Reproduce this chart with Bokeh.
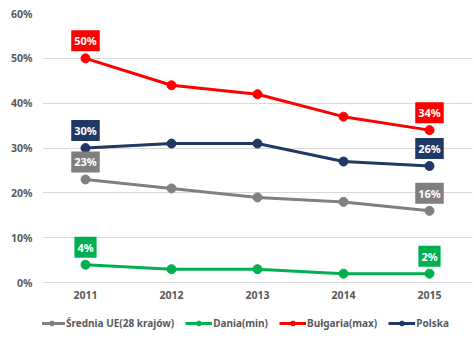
from bokeh.plotting import figure
from bokeh.models import (ColumnDataSource, Label, Legend, LegendItem, Range1d,
                          FixedTicker, CustomJSTickFormatter)
from bokeh.embed import file_html
from bokeh.resources import INLINE

years = [2011, 2012, 2013, 2014, 2015]
srednia = [23, 21, 19, 18, 16]
dania = [4, 3, 3, 2, 2]
bulgaria = [50, 44, 42, 37, 34]
polska = [30, 31, 31, 27, 26]
y_ticks = [0, 10, 20, 30, 40, 50, 60]

series = [
    ("Średnia UE(28 krajów)", srednia, "#808080", "#7f7f7f"),
    ("Dania(min)", dania, "#00b050", "#00b050"),
    ("Bułgaria(max)", bulgaria, "#ff0000", "#ff0000"),
    ("Polska", polska, "#1f3864", "#1f3864"),
]

FONT = "Noto Sans"
TXT = "#595959"

p = figure(width=474, height=340, output_backend="svg", toolbar_location=None,
           x_range=Range1d(2010.5, 2015.5), y_range=Range1d(-12.9, 60),
           min_border_left=42, min_border_right=2, min_border_top=13, min_border_bottom=0)
p.outline_line_color = None
p.xgrid.grid_line_color = None
p.ygrid.grid_line_color = "#d9d9d9"
p.ygrid.grid_line_width = 1
p.yaxis.ticker = FixedTicker(ticks=y_ticks)
p.xaxis.ticker = FixedTicker(ticks=years)
p.xaxis.fixed_location = 0
p.yaxis.formatter = CustomJSTickFormatter(code="return tick + '%';")
for ax in (p.xaxis[0], p.yaxis[0]):
    ax.axis_line_color = None
    ax.major_tick_line_color = None
    ax.minor_tick_line_color = None
    ax.major_tick_out = 0
    ax.major_tick_in = 0
    ax.major_label_text_font = FONT
    ax.major_label_text_font_size = "10.5px"
    ax.major_label_text_color = TXT
    ax.major_label_text_font_style = "bold"
p.yaxis.major_label_standoff = 10
p.xaxis.major_label_standoff = 8

items = []
for name, vals, col, boxcol in series:
    src = ColumnDataSource(dict(x=years, y=vals))
    r1 = p.line("x", "y", source=src, line_color=col, line_width=3)
    r2 = p.scatter("x", "y", source=src, size=9, fill_color=col, line_color=col)
    items.append(LegendItem(label=name, renderers=[r1, r2]))
    for i in (0, len(years) - 1):
        p.add_layout(Label(x=years[i], y=vals[i], text=f"{vals[i]}%", y_offset=7,
                           text_align="center", text_baseline="bottom",
                           text_color="white", text_font=FONT, text_font_size="11px",
                           text_font_style="bold", background_fill_color=boxcol,
                           padding=3))

leg = Legend(items=items, orientation="horizontal", location=(-4, 10),
             label_text_font=FONT, label_text_font_size="10px", label_text_color=TXT,
             label_text_font_style="bold",
             glyph_width=27, glyph_height=12, label_standoff=1, spacing=11,
             padding=0, margin=0, border_line_color=None, background_fill_alpha=0)
p.add_layout(leg, "center")

open("out.html", "w").write(file_html(p, INLINE))
